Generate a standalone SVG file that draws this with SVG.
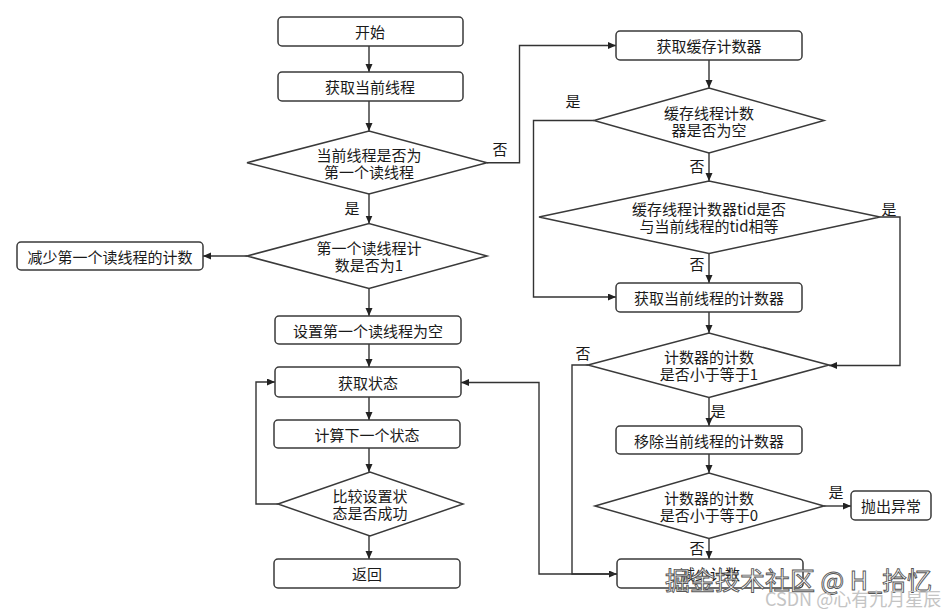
<svg xmlns="http://www.w3.org/2000/svg" width="952" height="614" viewBox="0 0 952 614">
<defs>
<marker id="arr" markerUnits="userSpaceOnUse" markerWidth="9" markerHeight="8" refX="8" refY="3.5" orient="auto">
<path d="M0,0 L8,3.5 L0,7 z" fill="#222"/>
</marker>
<style>
.box{fill:#fff;stroke:#3a3a3a;stroke-width:1.5}
.dia{fill:#fff;stroke:#3a3a3a;stroke-width:1.5}
.t{font-family:"Noto Sans CJK SC","Liberation Sans",sans-serif;font-size:15px;fill:#1a1a1a;text-anchor:middle;dominant-baseline:central}
.c{fill:none;stroke:#333;stroke-width:1.4;marker-end:url(#arr)}
.wm{font-family:"Noto Sans CJK SC","Liberation Sans",sans-serif;font-size:25px;fill:#fff;stroke:#555;stroke-width:0.9;dominant-baseline:central}
.wm2{font-family:"Noto Sans CJK SC","Liberation Sans",sans-serif;font-size:18px;fill:#c4c4c4;dominant-baseline:central}
</style>
</defs>
<rect width="952" height="614" fill="#fff"/>

<g id="connectors">
<path class="c" d="M369,46 V72"/>
<path class="c" d="M369,101 V131"/>
<path class="c" d="M369,194 V223.5"/>
<path class="c" d="M247,256 H203"/>
<path class="c" d="M369,288.5 V316"/>
<path class="c" d="M369,344 V367"/>
<path class="c" d="M369,397 V420"/>
<path class="c" d="M369,448 V472"/>
<path class="c" d="M369,536 V559"/>
<path class="c" d="M278,504 H256 V382 H275"/>
<path class="c" d="M487,162.7 H519.5 V45.5 H616"/>
<path class="c" d="M709,60 V88"/>
<path class="c" d="M594,120.5 H533.5 V297 H616"/>
<path class="c" d="M709,153 V181"/>
<path class="c" d="M709,253.5 V283"/>
<path class="c" d="M880,217 H900 V365.5 H829"/>
<path class="c" d="M709,312 V333"/>
<path class="c" d="M709,397.5 V426"/>
<path class="c" d="M588,365 H572 V574 H617"/>
<path class="c" d="M709,454 V473"/>
<path class="c" d="M824,506 H851"/>
<path class="c" d="M709,538.5 V559"/>
<path class="c" d="M617,574 H539 V382.5 H461"/>
<text class="t" x="352" y="207">是</text>
<text class="t" x="500" y="148">否</text>
<text class="t" x="573" y="100">是</text>
<text class="t" x="697" y="165">否</text>
<text class="t" x="889" y="208">是</text>
<text class="t" x="697" y="263">否</text>
<text class="t" x="583" y="352">否</text>
<text class="t" x="718" y="410">是</text>
<text class="t" x="836" y="491">是</text>
<text class="t" x="697" y="547">否</text>
</g>

<g id="start"><rect class="box" x="278" y="17" width="185" height="29" rx="4"/><text class="t" x="370" y="31.5">开始</text></g>
<g id="getThread"><rect class="box" x="278" y="72" width="185" height="29" rx="4"/><text class="t" x="370" y="86.5">获取当前线程</text></g>
<g id="isFirstReader"><polygon class="dia" points="247,162.7 369,131 487,162.7 369,194"/><text class="t" x="369" y="154">当前线程是否为</text><text class="t" x="369" y="171">第一个读线程</text></g>
<g id="firstCountIsOne"><polygon class="dia" points="247,256 369,223.5 487,256 369,288.5"/><text class="t" x="369" y="247.5">第一个读线程计</text><text class="t" x="369" y="264.5">数是否为1</text></g>
<g id="decFirst"><rect class="box" x="17" y="242" width="186" height="28" rx="4"/><text class="t" x="110" y="256">减少第一个读线程的计数</text></g>
<g id="setFirstNull"><rect class="box" x="275" y="316" width="186" height="28" rx="4"/><text class="t" x="368" y="330">设置第一个读线程为空</text></g>
<g id="getState"><rect class="box" x="275" y="367" width="186" height="30" rx="4"/><text class="t" x="368" y="382">获取状态</text></g>
<g id="calcNext"><rect class="box" x="274" y="420" width="186" height="28" rx="4"/><text class="t" x="367" y="434">计算下一个状态</text></g>
<g id="casState"><polygon class="dia" points="278,504 370,472 463,504 370,536"/><text class="t" x="370" y="495.5">比较设置状</text><text class="t" x="370" y="512.5">态是否成功</text></g>
<g id="return"><rect class="box" x="274" y="559" width="186" height="29" rx="4"/><text class="t" x="367" y="573.5">返回</text></g>

<g id="getCache"><rect class="box" x="616" y="31" width="186" height="29" rx="4"/><text class="t" x="709" y="45.5">获取缓存计数器</text></g>
<g id="cacheNull"><polygon class="dia" points="594,120.5 709,88 824,120.5 709,153"/><text class="t" x="709" y="112">缓存线程计数</text><text class="t" x="709" y="129">器是否为空</text></g>
<g id="tidEqual"><polygon class="dia" points="539,217 709,181 880,217 709,253.5"/><text class="t" x="709" y="208.5">缓存线程计数器tid是否</text><text class="t" x="709" y="225.5">与当前线程的tid相等</text></g>
<g id="getCurCounter"><rect class="box" x="616" y="283" width="186" height="29" rx="4"/><text class="t" x="709" y="297.5">获取当前线程的计数器</text></g>
<g id="countLe1"><polygon class="dia" points="588,365 709,333 829,365 709,397.5"/><text class="t" x="709" y="356.5">计数器的计数</text><text class="t" x="709" y="373.5">是否小于等于1</text></g>
<g id="removeCounter"><rect class="box" x="616" y="426" width="186" height="28" rx="4"/><text class="t" x="709" y="440">移除当前线程的计数器</text></g>
<g id="countLe0"><polygon class="dia" points="595,506 709,473 824,506 709,538.5"/><text class="t" x="709" y="497.5">计数器的计数</text><text class="t" x="709" y="514.5">是否小于等于0</text></g>
<g id="throwEx"><rect class="box" x="851" y="491" width="80" height="29" rx="4"/><text class="t" x="891" y="505.5">抛出异常</text></g>
<g id="decCount"><rect class="box" x="617" y="559" width="186" height="29" rx="4"/><text class="t" x="710" y="573.5">减少计数</text></g>

<g id="watermark">
<text class="wm" x="665" y="579">掘金技术社区 @ H_拾忆</text>
<text class="wm2" x="765" y="598">CSDN @心有九月星辰</text>
</g>
</svg>
